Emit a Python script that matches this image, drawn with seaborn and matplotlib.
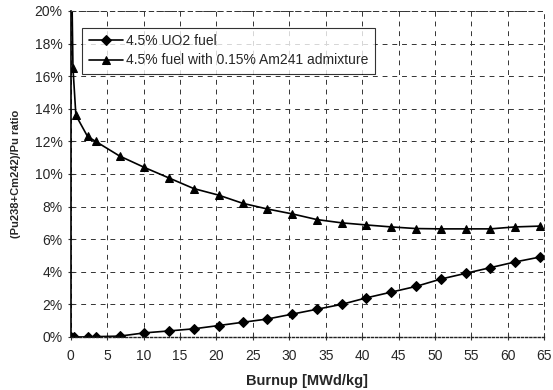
import numpy as np
import pandas as pd
import matplotlib
matplotlib.use('Agg')
import matplotlib.pyplot as plt
import seaborn as sns
from matplotlib.ticker import PercentFormatter

# burnup points [MWd/kg] and ratios [%]
burnup_uo2 = [0, 0.5, 2.3, 3.4, 6.7, 10.1, 13.5, 16.9, 20.3, 23.6, 27.0, 30.4,
              33.8, 37.2, 40.6, 44.0, 47.4, 50.8, 54.2, 57.6, 61.0, 64.4]
ratio_uo2 = [0.0, 0.0, 0.0, 0.02, 0.05, 0.25, 0.37, 0.5, 0.7, 0.9, 1.1, 1.4,
             1.7, 2.0, 2.4, 2.75, 3.1, 3.55, 3.9, 4.25, 4.6, 4.9]

burnup_am = [0, 0.3, 0.7, 2.3, 3.4, 6.7, 10.1, 13.5, 16.9, 20.3, 23.6, 27.0,
             30.4, 33.8, 37.2, 40.6, 44.0, 47.4, 50.8, 54.2, 57.6, 61.0, 64.4]
ratio_am = [26.0, 16.5, 13.6, 12.3, 12.0, 11.1, 10.4, 9.75, 9.1, 8.7, 8.2, 7.85,
            7.55, 7.2, 7.0, 6.87, 6.75, 6.65, 6.63, 6.63, 6.63, 6.75, 6.8]

labels = ['4.5% UO2 fuel', '4.5% fuel with 0.15% Am241 admixture']

sns.set_style('white')
plt.rcParams['font.family'] = ['Liberation Sans', 'DejaVu Sans']

fig = plt.figure(figsize=(5.53, 3.90), dpi=100)
ax = fig.add_axes([0.128, 0.136, 0.856, 0.836])

sns.lineplot(x=burnup_uo2, y=ratio_uo2, ax=ax, color='black', marker='D',
             markersize=5, linewidth=1.2, markeredgecolor='black', label=labels[0])
sns.lineplot(x=burnup_am, y=ratio_am, ax=ax, color='black', marker='^',
             markersize=6, linewidth=1.2, markeredgecolor='black', label=labels[1])

ax.set_xlim(0, 65)
ax.set_ylim(0, 20)
ax.set_xticks(np.arange(0, 66, 5))
ax.set_yticks(np.arange(0, 21, 2))
ax.yaxis.set_major_formatter(PercentFormatter(decimals=0))
ax.tick_params(labelsize=10, length=5, width=0.8, direction='inout',
               left=True, bottom=True, color='#333333')
ax.tick_params(axis='x', pad=6)

ax.grid(True, color='#333333', linestyle=(0, (5, 5)), linewidth=0.7)
for side in ['top', 'right']:
    ax.spines[side].set_linestyle((0, (4, 4)))
    ax.spines[side].set_linewidth(0.7)
    ax.spines[side].set_color('#333333')
ax.spines['bottom'].set_linestyle((0, (1.5, 1.5)))
ax.spines['bottom'].set_linewidth(1.0)
ax.spines['bottom'].set_color('#222222')
ax.spines['left'].set_color('black')
ax.spines['left'].set_linewidth(1.2)

ax.set_xlabel('Burnup [MWd/kg]', fontsize=10.5, fontweight='bold')
ax.set_ylabel('(Pu238+Cm242)/Pu ratio', fontsize=8, fontweight='bold')
ax.xaxis.set_label_coords(0.5, -0.115)
ax.yaxis.set_label_coords(-0.105, 0.5)

leg = ax.legend(loc='upper left', bbox_to_anchor=(0.01, 0.97), fontsize=10,
                frameon=True, fancybox=False, edgecolor='black',
                handlelength=2.5, borderpad=0.45, labelspacing=0.4, handletextpad=0.2)
leg.get_frame().set_linewidth(0.8)

fig.savefig('out.png', dpi=100)
